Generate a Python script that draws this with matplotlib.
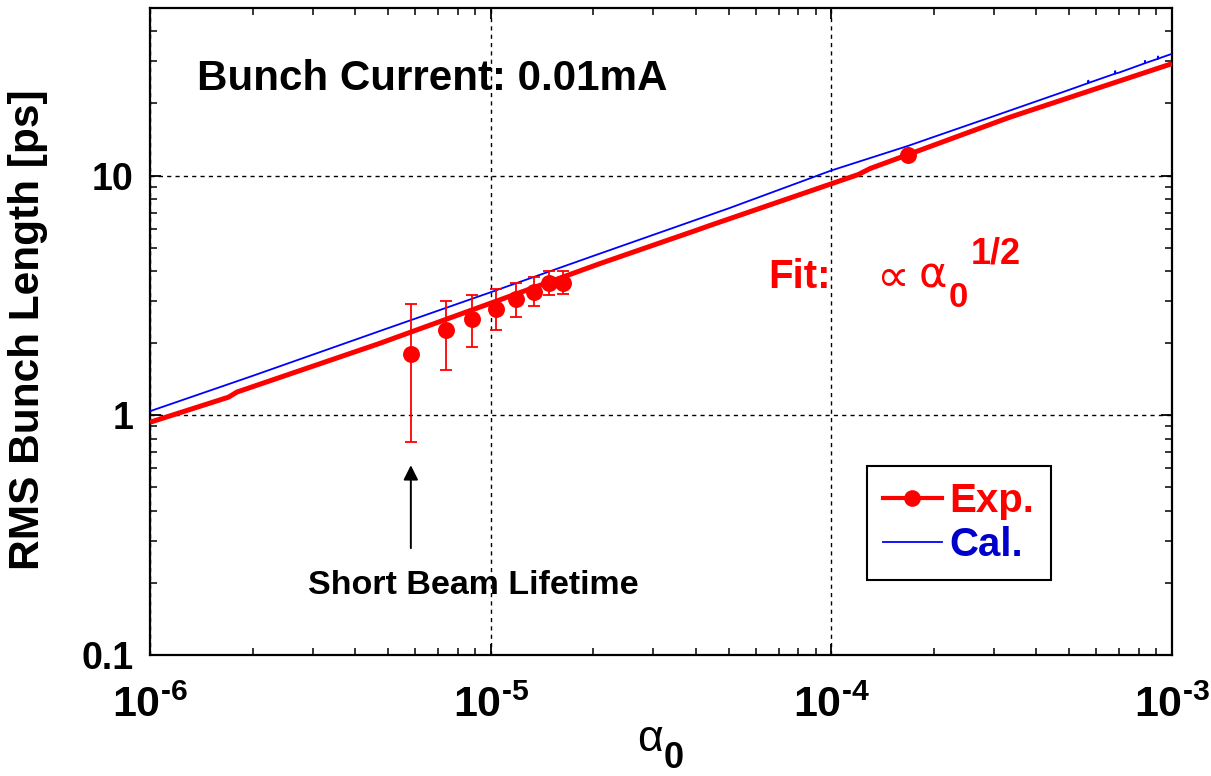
import matplotlib
matplotlib.use("Agg")
import matplotlib.pyplot as plt
from matplotlib.lines import Line2D
from matplotlib.ticker import LogLocator, FuncFormatter, NullFormatter
import math

plt.rcParams['font.family'] = ['Liberation Sans', 'DejaVu Sans']
plt.rcParams['font.weight'] = 'bold'
plt.rcParams['mathtext.fontset'] = 'custom'
plt.rcParams['mathtext.rm'] = 'Liberation Sans:bold'
plt.rcParams['mathtext.bf'] = 'Liberation Sans:bold'
plt.rcParams['mathtext.it'] = 'Liberation Sans:bold'

# Measured RMS bunch length vs momentum compaction factor (0.01 mA)
alpha_exp = [5.83e-6, 7.4e-6, 8.8e-6, 1.04e-5, 1.19e-5, 1.34e-5, 1.48e-5, 1.63e-5, 1.68e-4]
sigma_exp = [1.81, 2.26, 2.51, 2.77, 3.07, 3.28, 3.58, 3.58, 12.2]
sigma_low = [0.774, 1.54, 1.92, 2.26, 2.58, 2.85, 3.19, 3.22, 12.2]
sigma_high = [2.90, 2.99, 3.16, 3.35, 3.58, 3.79, 3.98, 3.98, 12.2]
n_err = 8  # points that carry error bars

# Fit curve (proportional to alpha^1/2)
fit_alpha = [1.0e-6, 1.7e-6, 1.8e-6, 4.7e-6, 2.1e-5, 4.0e-5, 4.4e-5, 1.2e-4,
             1.3e-4, 3.3e-4, 3.5e-4, 1.0e-3]
fit_sigma = [0.935, 1.19, 1.25, 1.99, 4.30, 5.90, 6.19, 10.1,
             10.7, 17.4, 17.9, 29.3]

# Calculated bunch length
cal_alpha = [1e-6, 2e-6, 5e-6, 1e-5, 2e-5, 5e-5, 1e-4, 1.68e-4, 2e-4, 3e-4,
             5e-4, 5.67e-4, 5.68e-4, 5.69e-4, 6.8e-4, 6.81e-4, 6.82e-4,
             7e-4, 8.32e-4, 8.33e-4, 8.34e-4, 9.09e-4, 9.10e-4, 9.11e-4, 1e-3]
cal_sigma = [1.04, 1.46, 2.31, 3.26, 4.62, 7.30, 10.5, 13.3, 14.5, 17.7,
             22.8, 24.3, 24.9, 24.35, 26.6, 27.3, 26.65,
             26.9, 29.4, 30.1, 29.45, 30.7, 31.4, 30.75, 32.2]

W, H = 1211, 776
fig = plt.figure(figsize=(W / 100, H / 100), dpi=100)
ax = fig.add_axes([150 / W, 1 - 655 / H, (1172 - 150) / W, (655 - 8) / H])
ax.set_xscale('log')
ax.set_yscale('log')
ax.set_xlim(1e-6, 1e-3)
ax.set_ylim(0.1, 50)

ax.plot(cal_alpha, cal_sigma, color='#0000ff', lw=1.3, zorder=3)
ax.plot(fit_alpha, fit_sigma, color='#ff0000', lw=3.6, zorder=4,
        solid_joinstyle='round', solid_capstyle='butt')

yerr = [[s - lo for s, lo in zip(sigma_exp[:n_err], sigma_low[:n_err])],
        [hi - s for s, hi in zip(sigma_exp[:n_err], sigma_high[:n_err])]]
ax.errorbar(alpha_exp[:n_err], sigma_exp[:n_err], yerr=yerr, fmt='none',
            ecolor='#ff0000', elinewidth=1.3, capsize=4.5, capthick=1.3, zorder=5)
ax.plot(alpha_exp, sigma_exp, 'o', color='#ff0000', ms=12.2, mec='none', zorder=6)

# axes styling
for s in ax.spines.values():
    s.set_linewidth(1.6)
ax.xaxis.set_major_locator(LogLocator(base=10, numticks=10))
ax.xaxis.set_minor_locator(LogLocator(base=10, subs=range(2, 10), numticks=20))
ax.yaxis.set_major_locator(LogLocator(base=10, numticks=10))
ax.yaxis.set_minor_locator(LogLocator(base=10, subs=range(2, 10), numticks=20))
ax.xaxis.set_minor_formatter(NullFormatter())
ax.yaxis.set_minor_formatter(NullFormatter())

HYPHEN = '\u2010'


def xfmt(v, pos):
    e = int(round(math.log10(v)))
    sign = HYPHEN if e < 0 else ''
    return '$\\mathbf{10^{%s%d}}$' % (sign, abs(e))


def yfmt(v, pos):
    return '%g' % v


ax.xaxis.set_major_formatter(FuncFormatter(xfmt))
ax.yaxis.set_major_formatter(FuncFormatter(yfmt))
ax.tick_params(which='both', direction='in', top=True, right=True)
ax.tick_params(which='major', length=8, width=1.3)
ax.tick_params(which='minor', length=5, width=1.1)
ax.tick_params(axis='x', which='major', labelsize=31, pad=22)
ax.tick_params(axis='y', which='major', labelsize=27, pad=12)

ax.grid(which='major', color='black', ls=(0, (3, 3)), lw=1.0)
ax.grid(which='minor', visible=False)

# labels
fig.text(28 / W, 1 - 330 / H, 'RMS Bunch Length [ps]', rotation=90,
         ha='center', va='center', fontsize=30.5, fontweight='bold')
fig.text(637 / W, 1 - 751 / H, '\u03b1', ha='left', va='baseline',
         fontsize=32, fontweight='normal')
fig.text(664 / W, 1 - 768 / H, '0', ha='left', va='baseline',
         fontsize=26, fontweight='bold')

ax.text((197 - 150) / 1022, (655 - 79) / 647, 'Bunch Current: 0.01mA',
        transform=ax.transAxes, ha='left', va='center', fontsize=30.3,
        fontweight='bold')

# fit annotation
fig.text(768 / W, 1 - 288 / H, 'Fit:', ha='left', va='baseline', fontsize=29,
         fontweight='bold', color='#ff0000')
fig.text(876 / W, 1 - 291 / H, '\u221d', ha='left', va='baseline',
         fontsize=33, fontweight='normal', color='#ff0000',
         family=['DejaVu Sans'])
fig.text(919 / W, 1 - 287 / H, '\u03b1', ha='left', va='baseline',
         fontsize=31, fontweight='normal', color='#ff0000',
         family=['DejaVu Sans'])
fig.text(949 / W, 1 - 307 / H, '0', ha='left', va='baseline', fontsize=25,
         fontweight='bold', color='#ff0000')
fig.text(971 / W, 1 - 263 / H, '1/2', ha='left', va='baseline', fontsize=26,
         fontweight='bold', color='#ff0000')

# lifetime note
ax.annotate('', xy=(alpha_exp[0], 0.619), xytext=(alpha_exp[0], 0.279),
            arrowprops=dict(arrowstyle='-|>', color='black', lw=1.4,
                            mutation_scale=22, shrinkA=0, shrinkB=0))
ax.text((473 - 150) / 1022, (655 - 585) / 647, 'Short Beam Lifetime',
        transform=ax.transAxes, ha='center', va='center', fontsize=24.5,
        fontweight='bold')

# legend
h_exp = Line2D([], [], color='#ff0000', lw=3.0, marker='o', ms=12, mec='none')
h_cal = Line2D([], [], color='#0000ff', lw=1.3)
leg = ax.legend([h_exp, h_cal], ['Exp.', 'Cal.'], loc='upper left',
                bbox_to_anchor=((867 - 150) / 1022, (655 - 466) / 647),
                prop=dict(family='Liberation Sans', weight='bold', size=29),
                labelcolor=['#ff0000', '#0000cc'], frameon=True, fancybox=False,
                edgecolor='black', framealpha=1, handlelength=1.45,
                handletextpad=0.2, labelspacing=0.14, borderpad=0.4,
                borderaxespad=0)
leg.get_frame().set_linewidth(1.5)

fig.savefig('out.png', dpi=100)
